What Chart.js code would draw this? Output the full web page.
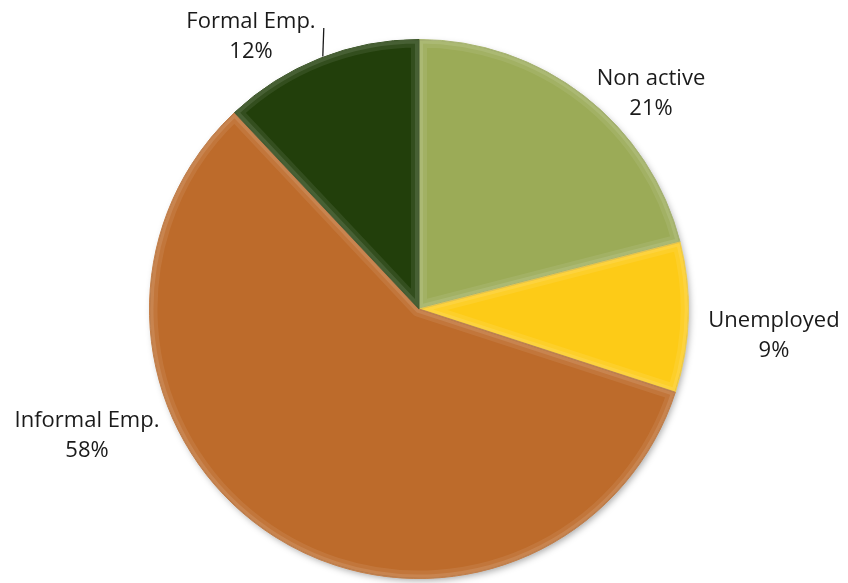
<!DOCTYPE html>
<html>
<head>
<meta charset="utf-8">
<script src="https://cdn.jsdelivr.net/npm/chart.js@4"></script>
<style>
  html, body { margin: 0; padding: 0; background: #fff; }
  #wrap { width: 848px; height: 583px; }
</style>
</head>
<body>
<div id="wrap"><canvas id="myPieChart" width="848" height="583"></canvas></div>
<script>
var categories = ['Non active', 'Unemployed', 'Informal Emp.', 'Formal Emp.'];
var shares = [21, 9, 58, 12];
var sliceColors = ['#9bab57', '#fdcb17', '#bd6b2b', '#223f0b'];
var edgeColors = ['#a9b86a', '#fed63e', '#c97a3c', '#2e4c17'];

// where each label block sits (centre of the text), relative to pie centre
var labelOffsets = [[232, -215], [355, 27], [-332, 127], [-168, -272]];

var pieShadow = {
  id: 'pieShadow',
  beforeDatasetsDraw: function (chart) {
    var arc = chart.getDatasetMeta(0).data[0];
    var ctx = chart.ctx;
    ctx.save();
    ctx.shadowColor = 'rgba(0,0,0,0.35)';
    ctx.shadowBlur = 7;
    ctx.shadowOffsetX = 2;
    ctx.shadowOffsetY = 3;
    ctx.fillStyle = '#fff';
    ctx.beginPath();
    ctx.arc(arc.x, arc.y, arc.outerRadius - 1, 0, Math.PI * 2);
    ctx.fill();
    ctx.restore();
  }
};

// soft bevel along the edges of every slice
var bevel = {
  id: 'bevel',
  afterDatasetsDraw: function (chart) {
    var arcs = chart.getDatasetMeta(0).data;
    var ctx = chart.ctx;
    arcs.forEach(function (a) {
      ctx.save();
      ctx.beginPath();
      ctx.moveTo(a.x, a.y);
      ctx.arc(a.x, a.y, a.outerRadius, a.startAngle, a.endAngle);
      ctx.closePath();
      ctx.clip();
      ctx.lineJoin = 'round';
      ctx.strokeStyle = 'rgba(255,255,255,0.08)';
      ctx.lineWidth = 16;
      ctx.stroke();
      ctx.strokeStyle = 'rgba(255,255,255,0.10)';
      ctx.lineWidth = 8;
      ctx.stroke();
      ctx.strokeStyle = 'rgba(0,0,0,0.10)';
      ctx.lineWidth = 1.5;
      ctx.stroke();
      ctx.restore();
    });
  }
};

var outsideLabels = {
  id: 'outsideLabels',
  afterDatasetsDraw: function (chart) {
    var arcs = chart.getDatasetMeta(0).data;
    var cx = arcs[0].x, cy = arcs[0].y;
    var ctx = chart.ctx;
    ctx.save();
    ctx.fillStyle = '#1a1a1a';
    ctx.font = '22px "Open Sans", sans-serif';
    ctx.textAlign = 'center';
    ctx.textBaseline = 'middle';
    for (var i = 0; i < categories.length; i++) {
      var x = cx + labelOffsets[i][0];
      var y = cy + labelOffsets[i][1];
      ctx.fillText(categories[i], x, y - 15);
      ctx.fillText(shares[i] + '%', x, y + 15);
    }
    // leader line for Formal Emp.
    var a = arcs[3];
    var mid = (a.startAngle + a.endAngle) / 2;
    var ex = cx + Math.cos(mid) * a.outerRadius;
    var ey = cy + Math.sin(mid) * a.outerRadius;
    ctx.strokeStyle = '#1a1a1a';
    ctx.lineWidth = 1.3;
    ctx.beginPath();
    ctx.moveTo(ex + 3, ey - 2);
    ctx.lineTo(ex + 4, cy - 281);
    ctx.stroke();
    ctx.restore();
  }
};

new Chart(document.getElementById('myPieChart').getContext('2d'), {
  type: 'pie',
  data: {
    labels: categories,
    datasets: [{
      data: shares,
      backgroundColor: sliceColors,
      borderColor: edgeColors,
      borderWidth: 1
    }]
  },
  options: {
    responsive: false,
    maintainAspectRatio: false,
    animation: false,
    layout: { padding: { top: 39, bottom: 4, left: 149, right: 159 } },
    plugins: {
      legend: { display: false },
      tooltip: { enabled: false }
    }
  },
  plugins: [pieShadow, bevel, outsideLabels]
});
</script>
</body>
</html>
